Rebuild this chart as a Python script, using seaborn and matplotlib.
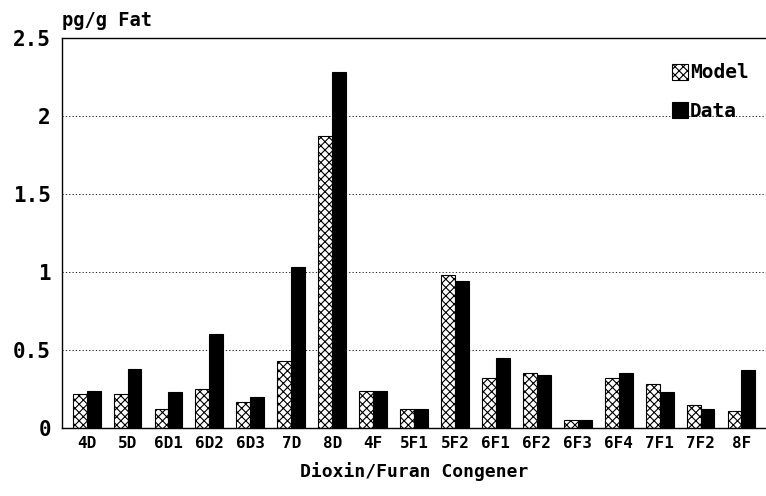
import numpy as np
import pandas as pd
import matplotlib.pyplot as plt
import seaborn as sns

# values
congeners = ['4D', '5D', '6D1', '6D2', '6D3', '7D', '8D', '4F', '5F1', '5F2',
             '6F1', '6F2', '6F3', '6F4', '7F1', '7F2', '8F']
model = [0.22, 0.22, 0.12, 0.25, 0.17, 0.43, 1.87, 0.24, 0.12, 0.98,
         0.32, 0.35, 0.05, 0.32, 0.28, 0.15, 0.11]
data = [0.24, 0.38, 0.23, 0.60, 0.20, 1.03, 2.28, 0.24, 0.12, 0.94,
        0.45, 0.34, 0.05, 0.35, 0.23, 0.12, 0.37]

df = pd.DataFrame({'Congener': congeners * 2,
                   'Value': model + data,
                   'Series': ['Model'] * len(model) + ['Data'] * len(data)})

sns.set_style('white')
plt.rcParams['font.family'] = ['DejaVu Sans Mono']
plt.rcParams['font.weight'] = 'bold'
plt.rcParams['text.color'] = 'black'
plt.rcParams['axes.labelcolor'] = 'black'
plt.rcParams['xtick.color'] = 'black'
plt.rcParams['ytick.color'] = 'black'
plt.rcParams['hatch.linewidth'] = 0.8

fig, ax = plt.subplots(figsize=(7.66, 4.96), dpi=100)
fig.subplots_adjust(left=0.081, right=1.0, top=0.923, bottom=0.137)

sns.barplot(data=df, x='Congener', y='Value', hue='Series',
            palette={'Model': 'white', 'Data': 'black'},
            edgecolor='black', linewidth=0.8, width=0.68, ax=ax)

n = len(congeners)
for bar in ax.patches[:n]:
    bar.set_hatch('xxxx')

ax.set_ylim(0, 2.5)
ax.set_xlim(-0.6, n - 0.4)
ax.set_yticks([0, 0.5, 1, 1.5, 2, 2.5])
ax.set_yticklabels(['0', '0.5', '1', '1.5', '2', '2.5'], fontsize=15,
                   fontweight='bold')
ax.set_xticks(range(n))
ax.set_xticklabels(congeners, fontsize=11.5, fontweight='bold')
ax.tick_params(axis='x', length=0, pad=6)
ax.tick_params(axis='y', length=0, pad=8)
ax.yaxis.grid(True, linestyle=(0, (1.5, 2.5)), color='black', linewidth=0.6)
ax.set_axisbelow(True)

for side in ['left', 'top', 'bottom']:
    ax.spines[side].set_color('black')
    ax.spines[side].set_linewidth(1.0)
ax.spines['right'].set_visible(False)

ax.set_xlabel('Dioxin/Furan Congener', fontsize=13, labelpad=8,
              fontweight='bold')
ax.set_ylabel('')
ax.text(0.0, 1.02, 'pg/g Fat', transform=ax.transAxes, fontsize=13.5,
        ha='left', va='bottom', fontweight='bold')

leg = ax.legend(loc='upper right', bbox_to_anchor=(1.0, 0.98), frameon=False,
                prop={'size': 14, 'weight': 'bold'}, handlelength=0.8,
                handleheight=0.9, handletextpad=0.1, labelspacing=1.0)
for h in leg.legend_handles:
    h.set_edgecolor('black')
leg.legend_handles[0].set_hatch('xxxx')

fig.savefig('out.png', dpi=100)
